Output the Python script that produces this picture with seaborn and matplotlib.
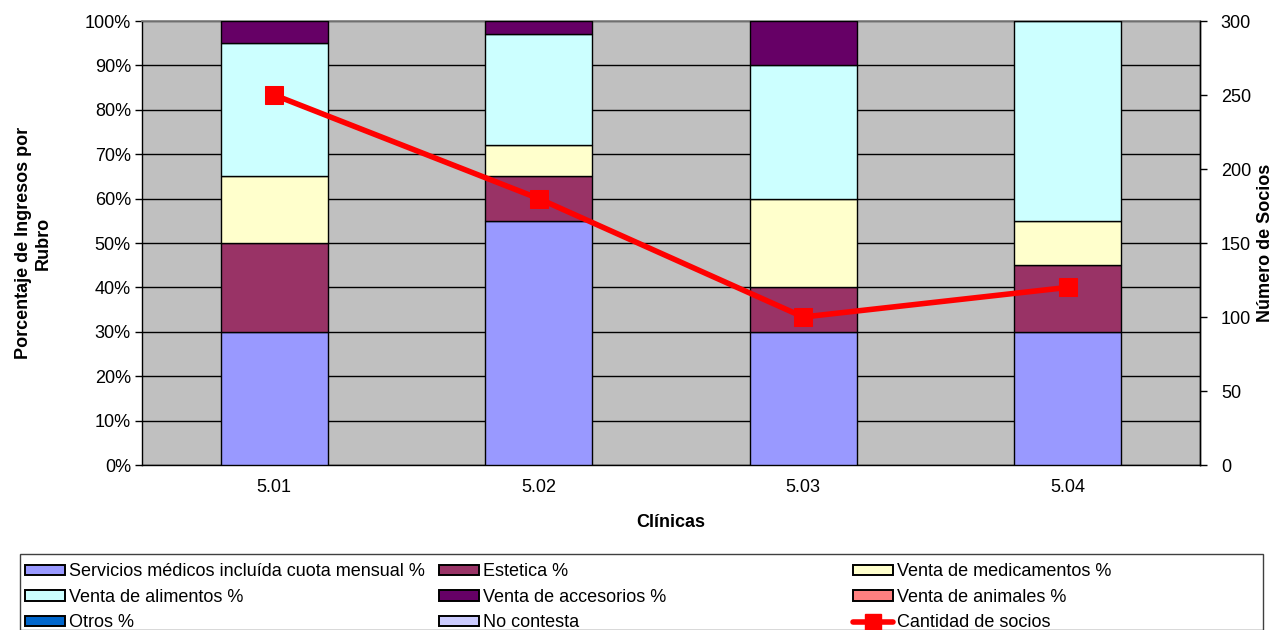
import matplotlib
matplotlib.use("Agg")
import matplotlib.pyplot as plt
import seaborn as sns
import numpy as np
import pandas as pd
from matplotlib.patches import Patch, Rectangle
from matplotlib.lines import Line2D

clinicas = ["5.01", "5.02", "5.03", "5.04"]
servicios = [30, 55, 30, 30]
estetica = [20, 10, 10, 15]
medicamentos = [15, 7, 20, 10]
alimentos = [30, 25, 30, 45]
accesorios = [5, 3, 10, 0]
animales = [0, 0, 0, 0]
otros = [0, 0, 0, 0]
no_contesta = [0, 0, 0, 0]
socios = [250, 180, 100, 120]

series_names = ["Servicios médicos incluída cuota mensual %", "Estetica %",
                "Venta de medicamentos %", "Venta de alimentos %",
                "Venta de accesorios %", "Venta de animales %", "Otros %", "No contesta"]
series_vals = [servicios, estetica, medicamentos, alimentos, accesorios,
               animales, otros, no_contesta]
colors = ["#9999FF", "#993366", "#FFFFCC", "#CCFFFF", "#660066", "#FF8080",
          "#0066CC", "#CCCCFF"]

sns.set_theme(style="white")
plt.rcParams['font.family'] = ['Liberation Sans', 'DejaVu Sans']
plt.rcParams.update({"text.color": "black", "axes.labelcolor": "black",
                     "xtick.color": "black", "ytick.color": "black"})

FS = 13

fig = plt.figure(figsize=(12.73, 6.3), dpi=100)
ax = fig.add_axes([142/1273, 1-465/630, (1200-142)/1273, (465-21)/630])
ax.set_facecolor("#C0C0C0")

bottom = np.zeros(len(clinicas))
for name, vals, c in zip(series_names, series_vals, colors):
    vals = np.array(vals, dtype=float) / 100.0
    df = pd.DataFrame({"clinica": clinicas, "v": vals})
    if vals.sum() > 0:
        sns.barplot(data=df, x="clinica", y="v", bottom=bottom, color=c,
                    edgecolor="black", linewidth=1, width=0.405, ax=ax,
                    saturation=1, zorder=3)
    bottom = bottom + vals

ax.set_xlim(-0.5, 3.5)
ax.set_ylim(0, 1)
ax.set_yticks(np.arange(0, 1.01, 0.1))
ax.set_yticklabels([f"{int(round(v*100))}%" for v in np.arange(0, 1.01, 0.1)], fontsize=FS)
ax.yaxis.grid(True, color="black", linewidth=1, zorder=1)
ax.set_axisbelow(True)
ax.set_xticks(range(4))
ax.set_xticklabels(clinicas, fontsize=FS)
ax.set_xticks(np.arange(-0.5, 3.6, 1), minor=True)
ax.tick_params(axis="x", which="major", length=0, pad=10)
ax.tick_params(axis="x", which="minor", length=6, width=1, color="black", direction="out")
ax.tick_params(axis="y", length=5, width=1, color="black", direction="out", left=True, pad=3)
ax.set_xlabel("Clínicas", fontsize=FS, fontweight="bold", labelpad=13)
ax.set_ylabel("Porcentaje de Ingresos por\nRubro", fontsize=FS, fontweight="bold", labelpad=24)
for s in ["left", "bottom", "right"]:
    ax.spines[s].set_color("black")
    ax.spines[s].set_linewidth(1)
ax.spines["top"].set_color("#808080")

ax2 = ax.twinx()
sdf = pd.DataFrame({"x": np.arange(4), "socios": socios})
sns.lineplot(data=sdf, x="x", y="socios", color="#FF0000", linewidth=4,
             marker="s", markersize=13, markeredgecolor="#FF0000", ax=ax2, zorder=5)
ax2.set_xlim(-0.5, 3.5)
ax2.set_ylim(0, 300)
ax2.set_yticks(np.arange(0, 301, 50))
ax2.set_yticklabels([str(v) for v in range(0, 301, 50)], fontsize=FS)
ax2.tick_params(axis="y", right=True, length=5, width=1, color="black", direction="out", pad=10)
ax2.set_ylabel("Número de Socios", fontsize=FS, fontweight="bold", labelpad=4)
ax2.set_xlabel("")
for s in ["top", "left", "bottom"]:
    ax2.spines[s].set_visible(False)
ax2.spines["right"].set_color("black")
ax2.spines["right"].set_linewidth(1)

# Legend frame
fig.patches.append(Rectangle((20/1273, 0), (1263-20)/1273, (630-554)/630,
                             transform=fig.transFigure, facecolor="white",
                             edgecolor="#404040", linewidth=1, zorder=0))

def patch(c):
    return Patch(facecolor=c, edgecolor="black", linewidth=1.4)

line_handle = Line2D([0], [0], color="#FF0000", linewidth=4, marker="s",
                     markersize=11, markeredgecolor="#FF0000")

cols = [
    ([patch(colors[0]), patch(colors[3]), patch(colors[6])],
     [series_names[0], series_names[3], series_names[6]], 11),
    ([patch(colors[1]), patch(colors[4]), patch(colors[7])],
     [series_names[1], series_names[4], series_names[7]], 425),
    ([patch(colors[2]), patch(colors[5]), line_handle],
     [series_names[2], series_names[5], "Cantidad de socios"], 839),
]
for handles, labels, xpix in cols:
    leg = fig.legend(handles, labels, loc="upper left",
                     bbox_to_anchor=(xpix/1273, 1-549/630), frameon=False,
                     fontsize=FS, handlelength=2.2, handleheight=0.5,
                     handletextpad=0.2, labelspacing=0.47, borderpad=0.3)

fig.savefig("out.png", dpi=100)
